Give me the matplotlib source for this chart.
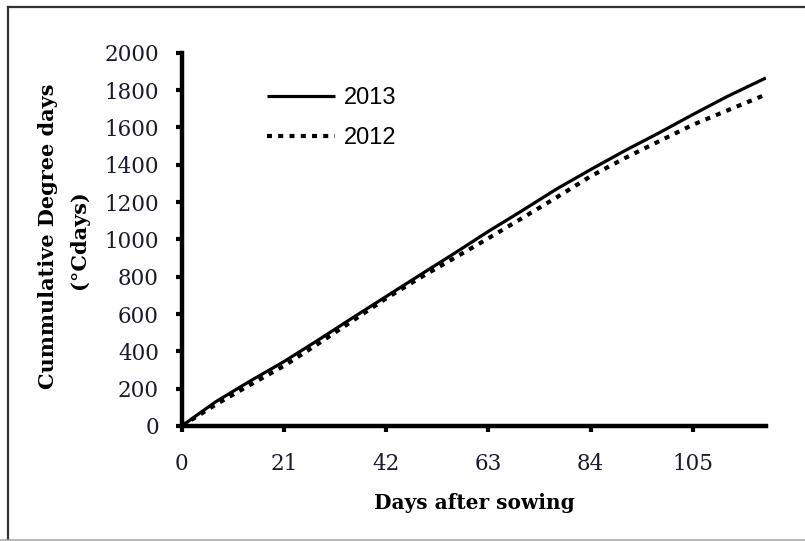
import matplotlib
matplotlib.use("Agg")
import matplotlib.pyplot as plt
from matplotlib.lines import Line2D

days = [0, 7, 14, 21, 28, 35, 42, 49, 56, 63, 70, 77, 84, 91, 98, 105, 112, 120]
gdd_2013 = [0, 130, 240, 345, 460, 578, 694, 810, 925, 1043, 1155, 1270, 1374, 1475, 1570, 1669, 1765, 1865]
gdd_2012 = [0, 115, 220, 322, 440, 562, 684, 795, 900, 1006, 1115, 1225, 1338, 1435, 1525, 1614, 1690, 1776]
xticks = [0, 21, 42, 63, 84, 105]
yticks = list(range(0, 2001, 200))

W, H = 805, 541
fig = plt.figure(figsize=(W / 100, H / 100), dpi=100)

ax = fig.add_axes([181.7 / W, 1 - 426 / H, (766 - 181.7) / W, (426 - 52.7) / H])
ax.plot(days, gdd_2013, color="black", lw=2.3, solid_capstyle="butt", label="2013")
ax.plot(days, gdd_2012, color="black", lw=3.0, linestyle=(0, (1.2, 1.5)), label="2012")

ax.set_xlim(0, 120)
ax.set_ylim(0, 2000)
ax.set_xticks(xticks)
ax.set_yticks(yticks)
for s in ["top", "right"]:
    ax.spines[s].set_visible(False)
for s in ["left", "bottom"]:
    ax.spines[s].set_linewidth(3.2)
    ax.spines[s].set_capstyle("projecting")
ax.tick_params(axis="both", direction="out", length=4.5, width=3, color="black")
ax.tick_params(axis="y", pad=12)
ax.tick_params(axis="x", pad=15)
for lab in ax.get_xticklabels() + ax.get_yticklabels():
    lab.set_fontfamily("DejaVu Serif")
    lab.set_fontsize(15.5)
    lab.set_color("#1a1a2e")

fig.text(474 / W, 1 - 503 / H, "Days after sowing", ha="center", va="center",
         fontfamily="DejaVu Serif", fontweight="bold", fontsize=14.5)
fig.text(48 / W, 1 - 236 / H, "Cummulative Degree days", ha="center", va="center",
         rotation=90, fontfamily="DejaVu Serif", fontweight="bold", fontsize=15)
fig.text(79 / W, 1 - 240 / H, "(°Cdays)", ha="center", va="center",
         rotation=90, fontfamily="DejaVu Serif", fontweight="bold", fontsize=15)

leg = ax.legend(loc="upper left", bbox_to_anchor=(267 / W, 1 - 87 / H),
                bbox_transform=fig.transFigure, frameon=False,
                prop={"family": "Liberation Sans", "size": 17},
                handlelength=2.9, handletextpad=0.35, labelspacing=0.78,
                borderpad=0, borderaxespad=0)

# figure frame
fig.add_artist(Line2D([8 / W, 8 / W], [0, 1 - 7 / H], transform=fig.transFigure, color="#333333", lw=1.6))
fig.add_artist(Line2D([8 / W, 1], [1 - 7 / H, 1 - 7 / H], transform=fig.transFigure, color="#333333", lw=1.6))
fig.add_artist(Line2D([0, 1], [1 / H, 1 / H], transform=fig.transFigure, color="#aaaaaa", lw=1.2))

fig.savefig("out.png", dpi=100)
